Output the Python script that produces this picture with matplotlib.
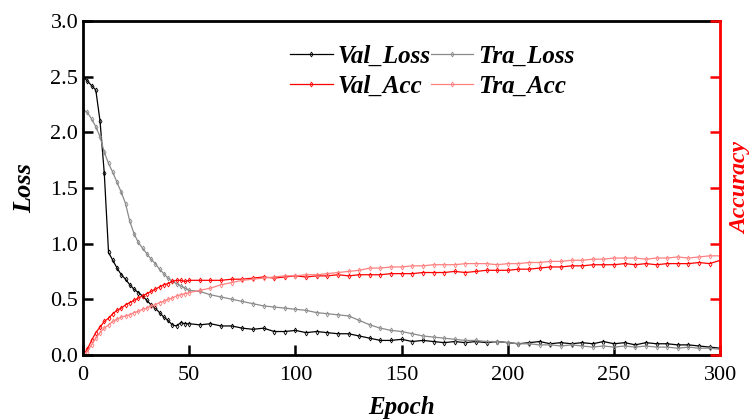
# Training / validation loss and accuracy over epochs

import matplotlib.pyplot as plt

# Epochs (denser at the start where the curves change fast)
epochs = list(range(0, 51, 2)) + list(range(55, 301, 5))

val_loss = [2.50, 2.46, 2.42, 2.38, 2.10, 1.63, 0.92, 0.85, 0.78, 0.72, 0.68, 0.63, 0.59,
            0.56, 0.53, 0.49, 0.45, 0.42, 0.38, 0.34, 0.31, 0.27, 0.26, 0.29, 0.28, 0.28,
            0.27, 0.28, 0.26, 0.26, 0.24, 0.23, 0.24, 0.21, 0.21, 0.22, 0.20, 0.21, 0.20,
            0.19, 0.19, 0.17, 0.15, 0.13, 0.13, 0.14, 0.12, 0.13, 0.12, 0.11, 0.12, 0.11,
            0.12, 0.11, 0.12, 0.11, 0.10, 0.11, 0.12, 0.10, 0.11, 0.10, 0.11, 0.10, 0.12,
            0.10, 0.11, 0.09, 0.11, 0.10, 0.10, 0.09, 0.09, 0.08, 0.07, 0.06]

tra_loss = [2.20, 2.18, 2.12, 2.05, 1.96, 1.82, 1.72, 1.64, 1.55, 1.46, 1.36, 1.20, 1.09,
            1.01, 0.96, 0.91, 0.86, 0.82, 0.77, 0.73, 0.69, 0.66, 0.64, 0.62, 0.60, 0.58,
            0.57, 0.54, 0.52, 0.50, 0.48, 0.46, 0.44, 0.43, 0.42, 0.41, 0.40, 0.38, 0.37,
            0.36, 0.35, 0.31, 0.27, 0.24, 0.22, 0.21, 0.19, 0.17, 0.16, 0.15, 0.14, 0.13,
            0.13, 0.12, 0.12, 0.11, 0.10, 0.10, 0.09, 0.09, 0.08, 0.09, 0.08, 0.07, 0.08,
            0.07, 0.08, 0.07, 0.08, 0.07, 0.07, 0.06, 0.07, 0.06, 0.06, 0.05]

val_acc = [0.00, 0.05, 0.13, 0.20, 0.25, 0.30, 0.33, 0.37, 0.40, 0.42, 0.45, 0.47, 0.49,
           0.51, 0.53, 0.55, 0.57, 0.59, 0.61, 0.63, 0.64, 0.66, 0.67, 0.67, 0.66, 0.67,
           0.67, 0.67, 0.67, 0.68, 0.68, 0.69, 0.70, 0.69, 0.70, 0.71, 0.70, 0.71, 0.71,
           0.72, 0.71, 0.72, 0.72, 0.72, 0.73, 0.73, 0.73, 0.74, 0.74, 0.74, 0.75, 0.74,
           0.75, 0.76, 0.76, 0.76, 0.77, 0.77, 0.78, 0.79, 0.79, 0.80, 0.80, 0.81, 0.81,
           0.81, 0.82, 0.81, 0.82, 0.81, 0.82, 0.82, 0.82, 0.83, 0.82, 0.85]

tra_acc = [0.00, 0.03, 0.09, 0.15, 0.20, 0.24, 0.27, 0.30, 0.32, 0.34, 0.35, 0.36, 0.38,
           0.39, 0.41, 0.42, 0.44, 0.45, 0.47, 0.48, 0.50, 0.51, 0.53, 0.54, 0.55, 0.56,
           0.58, 0.60, 0.63, 0.65, 0.67, 0.68, 0.69, 0.70, 0.71, 0.71, 0.72, 0.72, 0.73,
           0.74, 0.75, 0.76, 0.78, 0.78, 0.79, 0.79, 0.80, 0.80, 0.81, 0.81, 0.81, 0.82,
           0.82, 0.82, 0.81, 0.82, 0.82, 0.83, 0.83, 0.84, 0.84, 0.85, 0.85, 0.86, 0.86,
           0.87, 0.87, 0.87, 0.86, 0.87, 0.87, 0.88, 0.87, 0.88, 0.89, 0.89]

plt.rcParams['font.family'] = ['Liberation Serif', 'DejaVu Serif']

fig = plt.figure(figsize=(7.55, 4.19), dpi=100)
ax = fig.add_axes([0.110, 0.153, 0.844, 0.797])

style = dict(marker='d', markersize=2.5, markerfacecolor='none', markeredgewidth=0.6, linewidth=0.9)
l1, = ax.plot(epochs, val_loss, color='black', label='Val_Loss', **style)
l2, = ax.plot(epochs, tra_loss, color='#8a8a8a', label='Tra_Loss', **style)
l3, = ax.plot(epochs, val_acc, color='#ff0000', label='Val_Acc', **style)
l4, = ax.plot(epochs, tra_acc, color='#ff8080', label='Tra_Acc', **style)

ax.set_xlim(0, 300)
ax.set_ylim(0, 3.0)
ax.set_xticks([0, 50, 100, 150, 200, 250, 300])
ax.set_yticks([0.0, 0.5, 1.0, 1.5, 2.0, 2.5, 3.0])
ax.set_yticklabels(['0.0', '0.5', '1.0', '1.5', '2.0', '2.5', '3.0'])
ax.tick_params(direction='in', length=7, width=1.8, labelsize=16, top=False, right=False)
ax.tick_params(axis='x', pad=8)
for s in ['left', 'bottom', 'top']:
    ax.spines[s].set_linewidth(2)
ax.spines['right'].set_visible(False)

ax.set_xlabel('Epoch', fontsize=18, fontweight='bold', fontstyle='italic', labelpad=8)
ax.set_ylabel('Loss', fontsize=19, fontweight='bold', fontstyle='italic', labelpad=10)

# Right axis: red ticks on the same scale, no labels
ax2 = ax.twinx()
ax2.set_ylim(0, 3.0)
ax2.set_yticks([0.0, 0.5, 1.0, 1.5, 2.0, 2.5, 3.0])
ax2.set_yticklabels([])
ax2.tick_params(direction='in', length=7, width=1.8, color='red')
ax2.spines['right'].set_color('red')
ax2.spines['right'].set_linewidth(2)
for s in ['left', 'bottom', 'top']:
    ax2.spines[s].set_visible(False)
ax2.set_ylabel('Accuracy', fontsize=17, fontweight='bold', fontstyle='italic', color='red', labelpad=4)

leg = ax.legend(handles=[l1, l3, l2, l4], ncol=2, loc='upper left', bbox_to_anchor=(0.325, 0.93),
                frameon=False, borderpad=0, borderaxespad=0, numpoints=1,
                handlelength=1.7, columnspacing=0.0, handletextpad=0.2,
                labelspacing=0.3, prop=dict(size=18, weight='bold', style='italic'))

plt.savefig('out.png', dpi=100)
